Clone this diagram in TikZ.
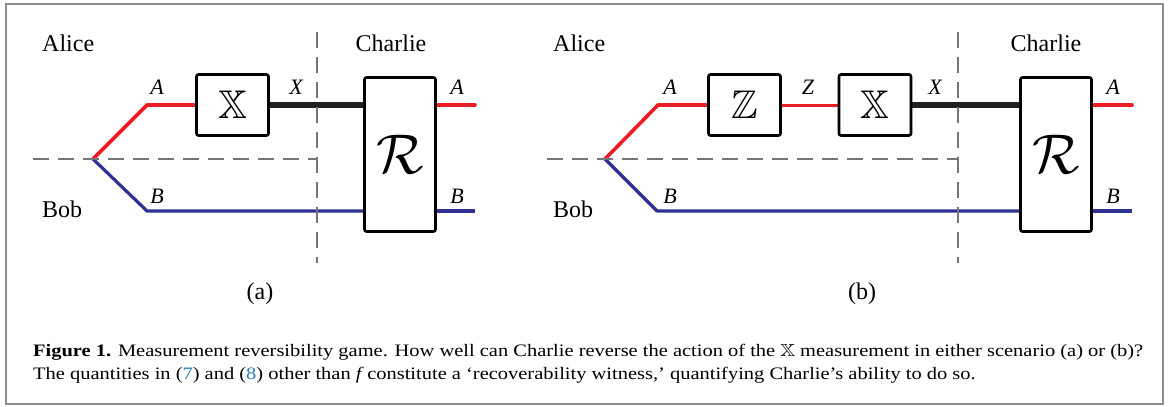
\documentclass[tikz,border=0pt]{standalone}
\usepackage{fontspec}
\setmainfont{Liberation Serif}
\usepackage{amssymb}
\usepackage{graphicx}
\usetikzlibrary{shadows,backgrounds}
\definecolor{qred}{RGB}{237,28,36}
\definecolor{qblue}{RGB}{46,49,146}
\definecolor{dgray}{RGB}{118,118,118}
\definecolor{fgray}{RGB}{140,140,140}
\definecolor{capblue}{RGB}{41,128,185}
\definecolor{wireblack}{RGB}{35,31,32}
\newcommand\mycapfont{\fontsize{17.5}{22}\selectfont}
\newcommand\capone{\textbf{Figure 1.} Measurement reversibility game. How well can Charlie reverse the action of the $\mathbb{X}$ measurement in either scenario (a) or (b)?}
\newcommand\captwo{The quantities in (\textcolor{capblue}{7}) and (\textcolor{capblue}{8}) other than \textit{f}\,constitute a ‘recoverability witness,’ quantifying Charlie’s ability to do so.}
\begin{document}
\begin{tikzpicture}[x=1pt,y=-1pt,
  gate/.style={draw=black, line width=2.6pt, fill=white, rounded corners=2pt, inner sep=0pt,
    drop shadow={opacity=0.25, shadow xshift=1pt, shadow yshift=-1pt}},
  smallgate/.style={gate, minimum width=72pt, minimum height=61pt},
  biggate/.style={gate, minimum width=71pt, minimum height=154pt},
  persona/.style={font=\fontsize{24}{28}\selectfont, inner sep=0pt, anchor=base},
  lab/.style={font=\fontsize{22}{26}\selectfont\itshape, inner sep=0pt, anchor=base},
  redwire/.style={qred, line width=3.6pt},
  redthin/.style={qred, line width=3pt},
  bluewire/.style={qblue, line width=3.2pt},
  thickwire/.style={wireblack, line width=6.5pt},
  divider/.style={dgray, line width=2.8pt, dash pattern=on 16pt off 9pt},
  outerframe/.style={fgray, line width=2pt}]
\useasboundingbox (0,0) rectangle (1168,407);
\draw[outerframe] (5.5,3.5) rectangle (1162.5,403.5);

% ---------- panel (a) ----------
\node[smallgate] (Xa) at (232.5,105) {\scalebox{4}{$\mathbb{X}$}};
\node[biggate] (Ra) at (400,154.5) {\scalebox{5.6}{$\mathcal{R}$}};
\coordinate (sa) at (93,159);
\coordinate (ca) at (147,105);
\coordinate (da) at (147,211);
\coordinate (oa1) at (475,105);
\coordinate (oa2) at (475,211);
\coordinate (vta) at (317,32);
\coordinate (vba) at (317,263);
\coordinate (hla) at (33,159);
\begin{pgfonlayer}{background}
\draw[redwire, line join=round] (sa) -- (ca) -- (Xa.west);
\draw[bluewire, line join=round] (sa) -- (da) -- (Ra.west |- da);
\draw[thickwire] (Xa.east) -- (Ra.west |- Xa.east);
\draw[redwire, line cap=round] (Ra.east |- oa1) -- (oa1);
\draw[bluewire] (Ra.east |- oa2) -- (oa2);
\end{pgfonlayer}
\draw[divider] (vta) -- (vba);
\draw[divider] (hla) -- (vta |- hla);

\node[persona, anchor=base west] (alicea) at (42,51) {Alice};
\node[persona, anchor=base west] (boba) at (42,217) {Bob};
\node[persona] (charliea) at (391,51) {Charlie};
\node[persona] (capa) at (260,299) {(a)};
\node[lab] (la1) at (157,94) {A};
\node[lab] (la2) at (157,203) {B};
\node[lab] (la3) at (296,94) {X};
\node[lab] (la4) at (457,94) {A};
\node[lab] (la5) at (457,203) {B};

% ---------- panel (b) ----------
\node[smallgate] (Zb) at (744.5,105) {\scalebox{4}{$\mathbb{Z}$}};
\node[smallgate] (Xb) at (875,105) {\scalebox{4}{$\mathbb{X}$}};
\node[biggate] (Rb) at (1056,154.5) {\scalebox{5.6}{$\mathcal{R}$}};
\coordinate (sb) at (605,159);
\coordinate (cb) at (658,105);
\coordinate (db) at (657,211);
\coordinate (ob1) at (1132,105);
\coordinate (ob2) at (1132,211);
\coordinate (vtb) at (958,32);
\coordinate (vbb) at (958,263);
\coordinate (hlb) at (547,159);
\begin{pgfonlayer}{background}
\draw[redwire, line join=round] (sb) -- (cb) -- (Zb.west);
\draw[redthin] (Zb.east) -- (Xb.west);
\draw[bluewire, line join=round] (sb) -- (db) -- (Rb.west |- db);
\draw[thickwire] (Xb.east) -- (Rb.west |- Xb.east);
\draw[redwire, line cap=round] (Rb.east |- ob1) -- (ob1);
\draw[bluewire] (Rb.east |- ob2) -- (ob2);
\end{pgfonlayer}
\draw[divider] (vtb) -- (vbb);
\draw[divider] (hlb) -- (vtb |- hlb);

\node[persona, anchor=base west] (aliceb) at (553,51) {Alice};
\node[persona, anchor=base west] (bobb) at (553,217) {Bob};
\node[persona] (charlieb) at (1046,51) {Charlie};
\node[persona] (capb) at (862,299) {(b)};
\node[lab] (lb1) at (670,94) {A};
\node[lab] (lb2) at (670,203) {B};
\node[lab] (lb3) at (808,94) {Z};
\node[lab] (lb4) at (935,94) {X};
\node[lab] (lb5) at (1113,94) {A};
\node[lab] (lb6) at (1113,203) {B};

% ---------- caption ----------
\node[inner sep=0pt, anchor=base west] (caption) at (33,379)
  {\mycapfont\resizebox{1110pt}{\height}{\begin{tabular}[b]{@{}l@{}}\capone\\[1pt]\captwo\end{tabular}}};
\end{tikzpicture}
\end{document}
